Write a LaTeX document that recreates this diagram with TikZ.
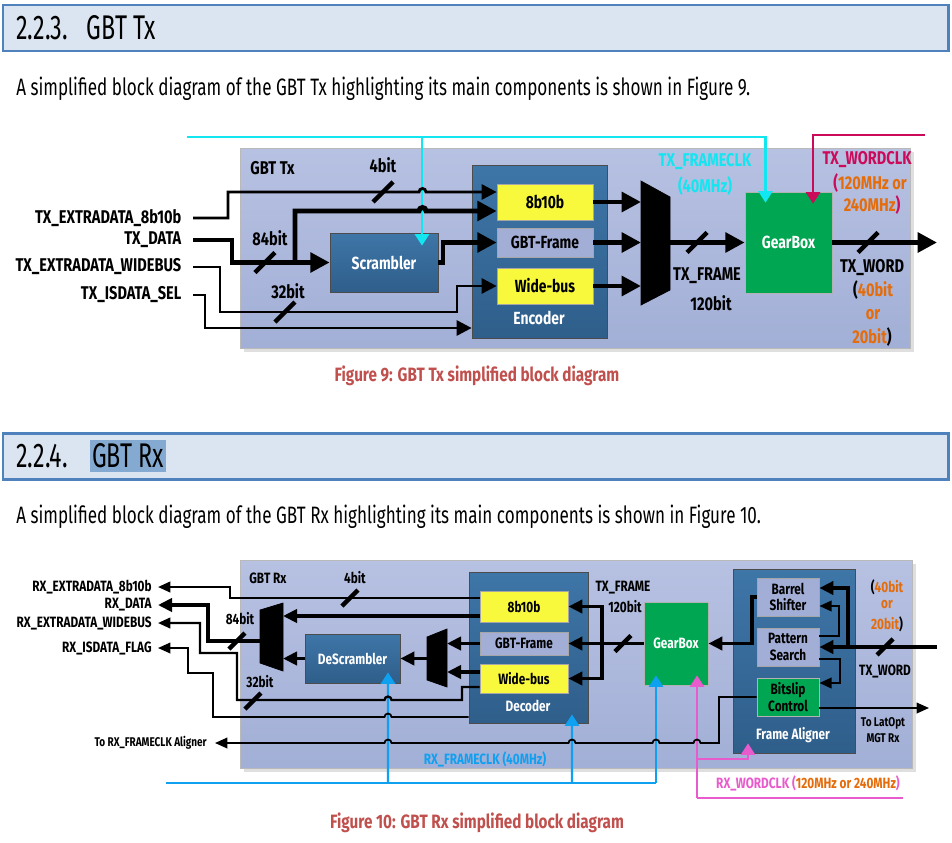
\documentclass[tikz,border=0pt]{standalone}
\usepackage{fontspec}
\setmainfont{Fira Sans}[FakeStretch=0.79]
\newfontfamily\parafont{Fira Sans}[FakeStretch=0.72]
\newfontfamily\hdrfont{Fira Sans}[FakeStretch=0.68]
\usetikzlibrary{arrows.meta,shadows,calc}

\definecolor{hdrfill}{HTML}{DBE5F1}
\definecolor{hdrline}{HTML}{4F81BD}
\definecolor{hilite}{HTML}{84AAD2}
\definecolor{mainfill}{HTML}{B7C1E2}
\definecolor{mainfillb}{HTML}{A2AFD6}
\definecolor{darkboxt}{HTML}{3E76A8}
\definecolor{darkboxb}{HTML}{2F5E8A}
\definecolor{ylw}{HTML}{F8F83C}
\definecolor{frameblk}{HTML}{A3AED6}
\definecolor{gbgreen}{HTML}{00A651}
\definecolor{capred}{HTML}{C0504D}
\definecolor{txcyan}{HTML}{12E6F0}
\definecolor{wordred}{HTML}{CC0A5A}
\definecolor{orng}{HTML}{E46C0A}
\definecolor{rxblue}{HTML}{10A0F0}
\definecolor{rxpink}{HTML}{E85BCC}

% bus width mark (short slash across a line)
\newcommand{\busmark}[2][10]{\draw[slashln] (#2) ++(-#1,#1) -- ++(2*#1,-2*#1);}

\begin{document}
\begin{tikzpicture}[x=0.02cm, y=-0.02cm,
    sz/.style 2 args={minimum width=#1*0.02cm, minimum height=#2*0.02cm, inner sep=0pt},
    hdrbox/.style={draw=hdrline, line width=1.7pt, fill=hdrfill},
    hdrtxt/.style={font=\hdrfont\fontsize{19.5}{22}\selectfont, inner sep=0pt},
    paratxt/.style={font=\parafont\fontsize{13.5}{16}\selectfont, inner sep=0pt},
    captxt/.style={font=\bfseries\fontsize{11}{13}\selectfont, text=capred, inner sep=0pt},
    mainbox/.style={draw=gray!55, top color=mainfill, bottom color=mainfillb,
        drop shadow={shadow xshift=2pt, shadow yshift=-2pt, opacity=0.25}},
    darkbox/.style={draw=gray!60!black, top color=darkboxt, bottom color=darkboxb, text=white,
        font=\bfseries\fontsize{10}{12}\selectfont},
    wlbl/.style={text=white, inner sep=0pt, font=\bfseries\fontsize{10}{12}\selectfont},
    ylwbox/.style={draw=gray!70, fill=ylw, font=\bfseries\fontsize{10}{12}\selectfont},
    ltbox/.style={draw=gray!70, fill=frameblk, font=\bfseries\fontsize{10}{12}\selectfont},
    grnbox/.style={draw=gray!60, fill=gbgreen, text=white, font=\bfseries\fontsize{10}{12}\selectfont},
    lbl/.style={font=\bfseries\fontsize{10.5}{12}\selectfont, inner sep=0pt},
    rlbl/.style={font=\bfseries\fontsize{8.5}{10}\selectfont, inner sep=0pt},
    slbl/.style={font=\bfseries\fontsize{7.2}{8.5}\selectfont, inner sep=0pt, align=center},
    thk/.style={line width=2.8pt},
    med/.style={line width=1.6pt},
    rthk/.style={line width=2.2pt},
    rmed/.style={line width=1.3pt},
    rthn/.style={line width=1pt},
    slashln/.style={line width=2.5pt},
    arr/.style={-{Triangle[length=11pt,width=11pt]}},
    marr/.style={-{Triangle[length=8.5pt,width=8.5pt]}},
    rarr/.style={-{Triangle[length=8pt,width=7.5pt]}},
    rmarr/.style={-{Triangle[length=7pt,width=6pt]}},
    clkarr/.style={-{Triangle[length=6.5pt,width=8pt]}},
    cyanln/.style={txcyan, line width=1.3pt},
    wordln/.style={wordred, line width=1.3pt},
    rblue/.style={rxblue, line width=1.3pt},
    rpink/.style={rxpink, line width=1.3pt}]

    \useasboundingbox (0,0) rectangle (952,842);

    % ---------------- GBT Tx ----------------
    % Section heading and text
    \draw[hdrbox] (3,5) rectangle (948,51);
    \node[hdrtxt, anchor=west] (txhead) at (16,28) {2.2.3.\hspace{0.55em}GBT Tx};
    \node[paratxt, anchor=west] (txpara) at (16,89) {A simplified block diagram of the GBT Tx highlighting its main components is shown in Figure 9.};

    % Outer block
    \node[mainbox, sz={670}{200}] (txmain) at (575,248) {};
    \node[lbl, anchor=west] (txname) at (250,168) {GBT Tx};

    % Encoder with its three parts
    \node[darkbox, sz={135}{173}] (enc) at (539.5,251.5) {};
    \node[wlbl] (enclbl) at (539,318) {Encoder};
    \node[ylwbox, sz={96}{36}] (e8b) at (545,202) {8b10b};
    \node[ltbox, sz={96}{29}] (egf) at (545,242.5) {GBT-Frame};
    \node[ylwbox, sz={96}{36}] (ewb) at (545,286) {Wide-bus};

    % Scrambler and GearBox
    \node[darkbox, sz={108}{59}] (scr) at (384,262.5) {Scrambler};
    \node[grnbox, sz={87}{101}] (gbx) at (788.5,242.5) {GearBox};

    % Multiplexer
    \draw[fill=black] (641,181) -- (670,197) -- (670,290) -- (641,305) -- cycle;
    \coordinate (txmuxout) at (670,242.5);
    \coordinate (txout) at (937,242.5);

    % Input ports
    \node[lbl, anchor=east, inner xsep=6.5pt] (ined) at (193,218) {TX\_EXTRADATA\_8b10b};
    \node[lbl, anchor=east, inner xsep=6.5pt] (indata) at (193,240) {TX\_DATA};
    \node[lbl, anchor=east, inner xsep=6.5pt] (inwb) at (193,267) {TX\_EXTRADATA\_WIDEBUS};
    \node[lbl, anchor=east, inner xsep=6.5pt] (insel) at (193,295) {TX\_ISDATA\_SEL};

    % Clocks
    \coordinate (fclk) at (187,137);
    \coordinate (wclk) at (925,135);
    \draw[cyanln, clkarr] (fclk) -| ($(gbx.north)+(-23,11)$);
    \draw[cyanln, clkarr] (422,137) -- ($(scr.north)+(38,13)$);
    \draw[wordln, clkarr] (wclk) -| ($(gbx.north)+(24.5,12)$);

    % Data paths into the encoder
    \draw[med, marr] (ined.east) -| (228,192) -- (419,192) arc[start angle=180, end angle=360, radius=3.5] -- (e8b.west |- 0,192);
    \draw[thk, arr] (indata.east) -| (232,262.5) -- (scr.west);
    \draw[thk, arr] (295,262.5) -- (295,211) -- (419,211) arc[start angle=180, end angle=360, radius=3.5] -- (e8b.west |- 0,211);
    \draw[thk, arr] (scr.east) -- (443,262.5) -- (443,242.5) -- (egf.west);
    \draw[med, marr] (inwb.east) -| (220,312) -- (457,312) |- (ewb.west);
    \draw[med, marr] (insel.east) -| (205,328) -- (enc.west |- 0,328);

    % Encoder to multiplexer to GearBox
    \draw[thk, arr] (e8b.east) -- (641,202);
    \draw[thk, arr] (egf.east) -- (641,242.5);
    \draw[thk, arr] (ewb.east) -- (641,286);
    \draw[thk, arr] (txmuxout) -- (gbx.west);
    \draw[thk, arr] (gbx.east) -- (txout);

    % Bus widths
    \busmark{383,192}
    \busmark{265,262.5}
    \busmark{285,312}
    \busmark{697,242.5}
    \busmark{868,242.5}
    \node[lbl] (w4) at (383,165) {4bit};
    \node[lbl] (w84) at (270,238) {84bit};
    \node[lbl] (w32) at (288,291) {32bit};

    % Signal labels
    \node[lbl, text=txcyan] (fclklbl) at (705,162) {TX\_FRAMECLK};
    \node[lbl, text=txcyan] (fclkf) at (705,186) {(40MHz)};
    \node[lbl] (framelbl) at (707,276) {TX\_FRAME};
    \node[lbl] (framew) at (711,303) {120bit};
    \node[lbl, text=wordred] (wclklbl) at (867,160) {TX\_WORDCLK};
    \node[lbl] (wclkf1) at (870,183) {\textcolor{wordred}{(}\textcolor{orng}{120MHz or}};
    \node[lbl] (wclkf2) at (872,205) {\textcolor{orng}{240MHz}\textcolor{wordred}{)}};
    \node[lbl] (wordlbl) at (872,268) {TX\_WORD};
    \node[lbl] (wordw1) at (873,290) {(\textcolor{orng}{40bit}};
    \node[lbl, text=orng] (wordw2) at (873,315) {or};
    \node[lbl] (wordw3) at (872,337) {\textcolor{orng}{20bit})};

    \node[captxt] (txcap) at (477,376) {Figure 9: GBT Tx simplified block diagram};

    % ---------------- GBT Rx ----------------
    \draw[hdrbox] (3,433) rectangle (948,479);
    \node[hdrtxt, anchor=west] (rxhead) at (16,456) {2.2.4.};
    \node[hdrtxt, anchor=west, fill=hilite, inner xsep=1pt, inner ysep=2pt] (rxheadhl) at (90,456) {GBT Rx};
    \node[paratxt, anchor=west] (rxpara) at (16,517) {A simplified block diagram of the GBT Rx highlighting its main components is shown in Figure 10.};

    % Outer block
    \node[mainbox, sz={672}{208}] (rxmain) at (576,664) {};
    \node[rlbl, anchor=west] (rxname) at (249,578) {GBT Rx};

    % Decoder with its three parts
    \node[darkbox, sz={119}{151}] (dec) at (528.5,647.5) {};
    \node[wlbl, font=\bfseries\fontsize{8.5}{10}\selectfont] (declbl) at (528,706) {Decoder};
    \node[ylwbox, sz={88}{31}, font=\bfseries\fontsize{8.5}{10}\selectfont] (d8b) at (524,606.5) {8b10b};
    \node[ltbox, sz={88}{23}, font=\bfseries\fontsize{8.5}{10}\selectfont] (dgf) at (524,643.5) {GBT-Frame};
    \node[ylwbox, sz={88}{29}, font=\bfseries\fontsize{8.5}{10}\selectfont] (dwb) at (524,678.5) {Wide-bus};

    % DeScrambler and GearBox
    \node[darkbox, sz={95}{49}, font=\bfseries\fontsize{8.5}{10}\selectfont] (dscr) at (352.5,658.5) {DeScrambler};
    \node[grnbox, sz={64}{83}, font=\bfseries\fontsize{8.5}{10}\selectfont] (rgbx) at (676,643.5) {GearBox};

    % Frame aligner
    \node[darkbox, sz={122}{184}] (fal) at (794,661) {};
    \node[wlbl, font=\bfseries\fontsize{8.5}{10}\selectfont] (fallbl) at (793,735) {Frame Aligner};
    \node[ltbox, sz={62}{38}, align=center, font=\bfseries\fontsize{8.5}{9.5}\selectfont] (bsh) at (788,597) {Barrel\\Shifter};
    \node[ltbox, sz={62}{38}, align=center, font=\bfseries\fontsize{8.5}{9.5}\selectfont] (psr) at (788,647) {Pattern\\Search};
    \node[grnbox, sz={62}{38}, align=center, text=black, font=\bfseries\fontsize{8.5}{9.5}\selectfont] (bsc) at (788,697) {Bitslip\\Control};

    % Multiplexers
    \draw[fill=black] (260,610) -- (283,603) -- (283,671) -- (260,663) -- cycle;
    \draw[fill=black] (427,637) -- (447,629) -- (447,687) -- (427,680) -- cycle;
    \coordinate (mux1out) at (260,641);
    \coordinate (mux2out) at (427,658.5);
    \coordinate (rxin) at (937,647);
    \coordinate (latopt) at (929,708);

    % Output ports
    \node[rlbl, anchor=east, inner xsep=3.4pt] (rxed) at (158,587) {RX\_EXTRADATA\_8b10b};
    \node[rlbl, anchor=east, inner xsep=3.4pt] (rxdata) at (158,605) {RX\_DATA};
    \node[rlbl, anchor=east, inner xsep=3.4pt] (rxwb) at (158,623) {RX\_EXTRADATA\_WIDEBUS};
    \node[rlbl, anchor=east, inner xsep=3.4pt] (rxflag) at (158,648) {RX\_ISDATA\_FLAG};
    \node[slbl, anchor=east, inner xsep=4.5pt] (rxal) at (215,743) {To RX\_FRAMECLK Aligner};

    % Clocks
    \coordinate (rfclk) at (166,783);
    \coordinate (rwclk) at (903,798);
    \draw[rblue] (rfclk) -- (656,783);
    \draw[rblue, clkarr] (388,783) -- ($(dscr.south)+(35.5,-11)$);
    \draw[rblue, clkarr] (572,783) -- ($(dec.south)+(43.5,-9)$);
    \draw[rblue, clkarr] (656,783) -- ($(rgbx.south)+(-20,-10)$);
    \draw[rpink, clkarr] (697,798) -- ($(rgbx.south)+(21,-10)$);
    \draw[rpink, clkarr] (697,759) -| ($(fal.south)+(-46,-10)$);
    \draw[rpink] (697,798) -- (rwclk);

    % Decoder outputs
    \draw[rmed, rmarr] (d8b.west |- 0,598) -| (230,587) -- (rxed.east);
    \draw[rthk, rarr] (d8b.west |- 0,616) -- (283,616);
    \draw[rthk, rarr] (dgf.west) -- (447,643.5);
    \draw[rthk, rarr] (dwb.west |- 0,672) -- (447,672);
    \draw[rthk, rarr] (mux2out) -- (dscr.east);
    \draw[rthk, rarr] (dscr.west) -- (283,658.5);
    \draw[rthk, rarr] (mux1out) -- (208,641) |- (rxdata.east);
    \draw[rmed, rmarr] (dwb.west |- 0,687) -- (462,687) -- (462,700) -- (391.5,700) arc[start angle=0, end angle=-180, radius=3.5] -- (237,700) -- (237,653) -- (200,653) |- (rxwb.east);
    \draw[rthn, rmarr] (dec.west |- 0,717) -- (391.5,717) arc[start angle=0, end angle=-180, radius=3.5] -- (213,717) -- (213,673) -- (188,673) |- (rxflag.east);

    % GearBox to decoder
    \draw[rthk, rarr] (rgbx.west) -- (dgf.east);
    \draw[rthk, rarr] (602,643.5) |- (d8b.east);
    \draw[rthk, rarr] (602,643.5) |- (dwb.east);

    % Frame aligner paths
    \draw[rthk, rarr] (rxin) -- (psr.east);
    \draw[rthk, rarr] (848,647) |- (bsh.east |- 0,588);
    \draw[rmed, rmarr] (psr.east |- 0,636) -| (839,606) -- (bsh.east |- 0,606);
    \draw[rmed, rmarr] (psr.east |- 0,659) -| (840,683) -- (bsc.east |- 0,683);
    \draw[rthk, rarr] (bsh.west) -- (752,597) |- (rgbx.east);
    \draw[rthn, rmarr] (bsc.east |- 0,708) -- (latopt);
    \draw[rthn, rmarr] (bsc.west) -- (719,697) -- (719,743) -- (700.5,743) arc[start angle=0, end angle=-180, radius=3.5]
        -- (659.5,743) arc[start angle=0, end angle=-180, radius=3.5]
        -- (575.5,743) arc[start angle=0, end angle=-180, radius=3.5]
        -- (391.5,743) arc[start angle=0, end angle=-180, radius=3.5] -- (rxal.east);

    % Bus widths
    \busmark[8]{350,598}
    \busmark[8]{237,641}
    \busmark[8]{253,701}
    \busmark[8]{623,643.5}
    \busmark[8]{885,647}
    \node[rlbl] (rw4) at (355,578) {4bit};
    \node[rlbl] (rw84) at (240,619) {84bit};
    \node[rlbl] (rw32) at (260,682) {32bit};

    % Signal labels
    \node[rlbl] (rframe) at (623,588) {TX\_FRAME};
    \node[rlbl] (rframew) at (625,607) {120bit};
    \node[rlbl] (rword) at (885,671) {TX\_WORD};
    \node[rlbl] (rwordw1) at (887,587) {(\textcolor{orng}{40bit}};
    \node[rlbl, text=orng] (rwordw2) at (887,605) {or};
    \node[rlbl] (rwordw3) at (887,624) {\textcolor{orng}{20bit})};
    \node[slbl] (latlbl) at (883,730) {To LatOpt\\[1pt]MGT Rx};
    \node[rlbl, text=rxblue] (rfclklbl) at (485,759) {RX\_FRAMECLK (40MHz)};
    \node[rlbl, text=rxpink] (rwclklbl) at (808,783) {RX\_WORDCLK (\textcolor{orng}{120MHz or 240MHz})};

    \node[captxt] (rxcap) at (477,823) {Figure 10: GBT Rx simplified block diagram};

\end{tikzpicture}
\end{document}
